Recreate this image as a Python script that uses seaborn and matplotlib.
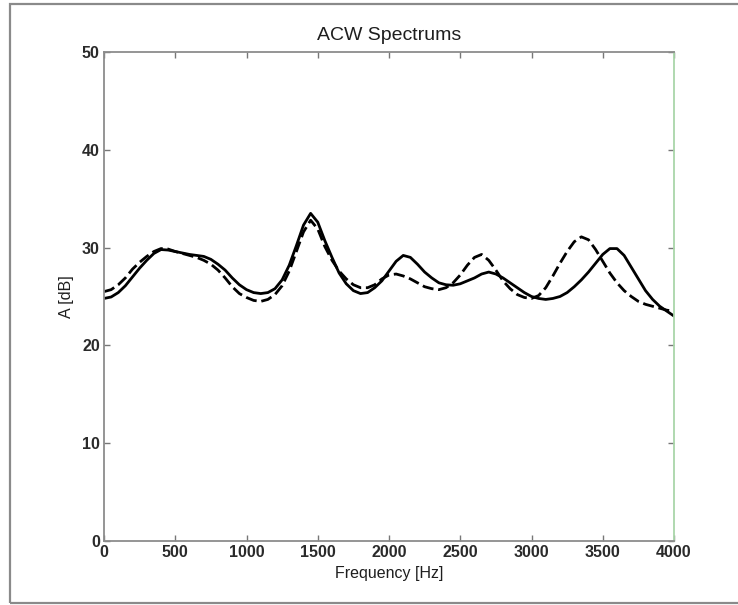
import matplotlib
matplotlib.use("Agg")
import matplotlib.pyplot as plt
from matplotlib.patches import Rectangle
import seaborn as sns
import pandas as pd

# ---- data (every 50 Hz) ----
freq = [0, 50, 100, 150, 200, 250, 300, 350, 400, 450, 500, 550, 600, 650, 700, 750,
        800, 850, 900, 950, 1000, 1050, 1100, 1150, 1200, 1250, 1300, 1350, 1400, 1450,
        1500, 1550, 1600, 1650, 1700, 1750, 1800, 1850, 1900, 1950, 2000, 2050, 2100,
        2150, 2200, 2250, 2300, 2350, 2400, 2450, 2500, 2550, 2600, 2650, 2700, 2750,
        2800, 2850, 2900, 2950, 3000, 3050, 3100, 3150, 3200, 3250, 3300, 3350, 3400,
        3450, 3500, 3550, 3600, 3650, 3700, 3750, 3800, 3850, 3900, 3950, 4000]

db_solid = [24.8, 24.95, 25.4, 26.1, 27.0, 27.9, 28.7, 29.4, 29.8, 29.75, 29.6, 29.45,
            29.3, 29.2, 29.1, 28.8, 28.3, 27.7, 26.9, 26.2, 25.7, 25.4, 25.3, 25.4, 25.8,
            26.7, 28.2, 30.2, 32.3, 33.5, 32.6, 30.7, 29.0, 27.4, 26.3, 25.6, 25.3, 25.4,
            25.9, 26.6, 27.6, 28.6, 29.2, 29.0, 28.3, 27.5, 26.9, 26.4, 26.2, 26.15, 26.3,
            26.6, 26.9, 27.3, 27.5, 27.3, 26.9, 26.4, 25.9, 25.4, 25.0, 24.8, 24.7, 24.8,
            25.0, 25.4, 26.0, 26.7, 27.5, 28.4, 29.3, 29.9, 29.9, 29.2, 28.0, 26.8, 25.6,
            24.7, 24.0, 23.5, 23.0]

db_dashed = [25.5, 25.7, 26.2, 26.9, 27.8, 28.5, 29.1, 29.6, 29.9, 29.85, 29.6, 29.4,
             29.2, 29.0, 28.7, 28.3, 27.7, 26.9, 26.0, 25.3, 24.9, 24.6, 24.5, 24.7, 25.2,
             26.1, 27.6, 29.6, 31.6, 32.8, 31.9, 30.1, 28.7, 27.6, 26.8, 26.2, 25.9, 25.9,
             26.2, 26.8, 27.2, 27.3, 27.1, 26.8, 26.4, 26.0, 25.8, 25.7, 25.9, 26.4, 27.2,
             28.2, 29.0, 29.3, 28.7, 27.7, 26.6, 25.8, 25.2, 24.9, 24.8, 25.1, 25.9, 27.1,
             28.4, 29.6, 30.6, 31.1, 30.8, 29.8, 28.6, 27.4, 26.4, 25.6, 25.0, 24.5, 24.2,
             24.0, 23.8, 23.6, 23.5]

series_names = ["solid", "dashed"]
x_ticks = [0, 500, 1000, 1500, 2000, 2500, 3000, 3500, 4000]
y_ticks = [0, 10, 20, 30, 40, 50]

title = "ACW Spectrums"
x_label = "Frequency [Hz]"
y_label = "A [dB]"

df = pd.concat([
    pd.DataFrame({"freq": freq, "db": db_solid, "series": series_names[0]}),
    pd.DataFrame({"freq": freq, "db": db_dashed, "series": series_names[1]}),
], ignore_index=True)

sns.set_theme(style="white")
plt.rcParams["font.family"] = ["Liberation Sans", "DejaVu Sans"]

fig = plt.figure(figsize=(7.38, 6.05), dpi=100)
fig.patch.set_facecolor("white")
ax = fig.add_axes([104 / 738, 64 / 605, 570 / 738, 489 / 605])

sns.lineplot(data=df, x="freq", y="db", style="series",
             dashes={"solid": "", "dashed": (4, 1.7)},
             color="black", linewidth=2.0, legend=False, ax=ax, sort=False)
for ln in ax.get_lines():
    ln.set_solid_joinstyle("round")
    ln.set_dash_joinstyle("round")

ax.set_xlim(0, 4000)
ax.set_ylim(0, 50)
ax.set_xticks(x_ticks)
ax.set_yticks(y_ticks)
ax.set_xticklabels([str(t) for t in x_ticks], fontweight="bold")
ax.set_yticklabels([str(t) for t in y_ticks], fontweight="bold")

ax.tick_params(axis="both", direction="in", length=4, width=1, color="#777777",
               labelsize=11.5, labelcolor="#2a2a2a", pad=3,
               top=True, right=True, bottom=True, left=True)

for side in ["left", "top", "bottom"]:
    ax.spines[side].set_color("#8c8c8c")
    ax.spines[side].set_linewidth(1.3)
ax.spines["right"].set_color("#a9d6a9")
ax.spines["right"].set_linewidth(1.3)

ax.set_title(title, fontsize=14, color="#1e1e1e", pad=9)
ax.set_xlabel(x_label, fontsize=11.5, color="#1e1e1e", labelpad=4)
ax.set_ylabel(y_label, fontsize=11.5, color="#1e1e1e", labelpad=6)

# outer frame of the original screenshot
fig.patches.append(Rectangle((10 / 738, 2 / 605), 740 / 738, 599 / 605,
                             transform=fig.transFigure, fill=False,
                             edgecolor="#8a8a8a", linewidth=1.6))

fig.savefig("out.png", dpi=100, facecolor="white")
